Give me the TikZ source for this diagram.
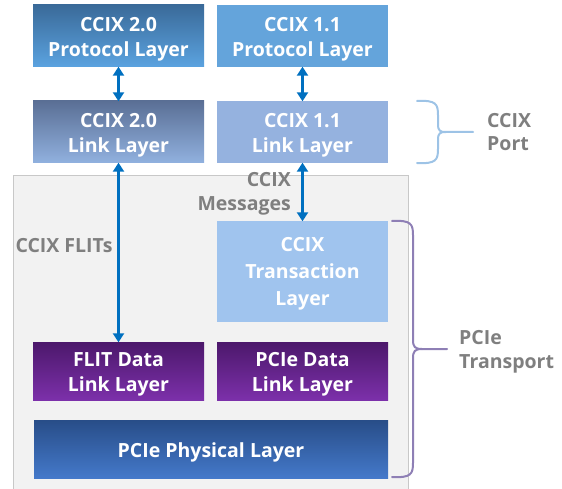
\documentclass[tikz,border=0pt]{standalone}
\usepackage{fontspec}
\setmainfont{Open Sans}
\usetikzlibrary{arrows.meta}
\definecolor{arrowblue}{HTML}{0070C0}
\definecolor{graytext}{HTML}{7F7F7F}
\definecolor{bgfill}{HTML}{F2F2F2}
\definecolor{bgline}{HTML}{C8C8C8}
\definecolor{portbrace}{HTML}{9DC3E6}
\definecolor{transbrace}{HTML}{8E7FB5}
\definecolor{pA}{HTML}{3A6A99}
\definecolor{pB}{HTML}{5BA3E0}
\definecolor{lA}{HTML}{5A6F95}
\definecolor{lB}{HTML}{91B1DF}
\definecolor{pflat}{HTML}{64A4DB}
\definecolor{lflat}{HTML}{95B2DF}
\definecolor{tflat}{HTML}{A0C4EE}
\definecolor{dA}{HTML}{4C186B}
\definecolor{dB}{HTML}{7C30AA}
\definecolor{phA}{HTML}{284D88}
\definecolor{phB}{HTML}{4479CA}
\tikzset{
  layerbox/.style={minimum width=171pt, minimum height=62pt, inner sep=0pt},
  boxtext/.style={inner sep=0pt, align=center, yshift=-3.5pt,
    text=white, font=\fontsize{19.5}{25}\selectfont\bfseries},
  linkarrow/.style={draw=arrowblue, line width=2.6pt, {Triangle[length=9pt,width=11pt]}-{Triangle[length=9pt,width=11pt]}, shorten <=-0.5pt, shorten >=-0.5pt},
  graylabel/.style={text=graytext, font=\fontsize{19.5}{23.5}\selectfont\bfseries, inner sep=0pt},
  bracepath/.style={line width=2pt, line cap=round, line join=round}
}
\begin{document}
\begin{tikzpicture}[x=1pt,y=-1pt]
\useasboundingbox (0,0) rectangle (562,489);
% background panel
\fill[bgfill] (13,176) rectangle (408,489);
\draw[bgline, line width=1pt] (13,489) -- (13,176) -- (408,176) -- (408,489);
% boxes
\node[layerbox, top color=pA, bottom color=pB] (p20) at (118.5,36) {};
\node[layerbox, top color=lA, bottom color=lB] (l20) at (118.5,132) {};
\node[layerbox, fill=pflat] (p11) at (302.5,36) {};
\node[layerbox, fill=lflat] (l11) at (302.5,132) {};
\node[layerbox, fill=tflat, minimum height=101pt] (trans) at (302.5,271.5) {};
\node[layerbox, minimum height=58pt, top color=dA, bottom color=dB] (flit) at (118.5,371) {};
\node[layerbox, minimum height=58pt, top color=dA, bottom color=dB] (pdl) at (302.5,371) {};
\node[layerbox, minimum width=354pt, minimum height=58pt, top color=phA, bottom color=phB] (phys) at (211,449) {};
% box texts
\node[boxtext] (p20t) at (p20) {CCIX 2.0\\Protocol Layer};
\node[boxtext] (l20t) at (l20) {CCIX 2.0\\Link Layer};
\node[boxtext] (p11t) at (p11) {CCIX 1.1\\Protocol Layer};
\node[boxtext] (l11t) at (l11) {CCIX 1.1\\Link Layer};
\node[boxtext, yshift=1.5pt, font=\fontsize{19.5}{27}\selectfont\bfseries] (transt) at (trans) {CCIX\\Transaction\\Layer};
\node[boxtext] (flitt) at (flit) {FLIT Data\\Link Layer};
\node[boxtext] (pdlt) at (pdl) {PCIe Data\\Link Layer};
\node[boxtext] (physt) at (phys) {PCIe Physical Layer};
% arrows
\draw[linkarrow] (p20.south) -- (l20.north);
\draw[linkarrow] (p11.south) -- (l11.north);
\draw[linkarrow] (l20.south) -- (flit.north);
\draw[linkarrow] (l11.south) -- (trans.north);
% labels
\node[graylabel] (flits) at (64,246) {CCIX FLITs};
\node[graylabel, align=right, anchor=east] (msgs) at (291,194) {CCIX\\Messages};
\node[graylabel, align=left, anchor=west] (port) at (487,132) {CCIX\\Port};
\node[graylabel, align=left, anchor=west] (transport) at (459,352) {PCIe\\Transport};
% braces
\draw[bracepath, portbrace] (417,101) .. controls (436,100) and (438,104) .. (438,115) -- (438,124)
  .. controls (438,131) and (440,132) .. (446,132) -- (473,132);
\draw[bracepath, portbrace] (417,163) .. controls (436,164) and (438,160) .. (438,149) -- (438,140)
  .. controls (438,133) and (440,132) .. (446,132);
\draw[bracepath, transbrace] (392,221) .. controls (411,220) and (413,224) .. (413,235) -- (413,340)
  .. controls (413,347) and (415,349) .. (422,349) -- (447,349);
\draw[bracepath, transbrace] (392,477) .. controls (411,478) and (413,474) .. (413,463) -- (413,358)
  .. controls (413,351) and (415,349) .. (422,349);
\end{tikzpicture}
\end{document}
